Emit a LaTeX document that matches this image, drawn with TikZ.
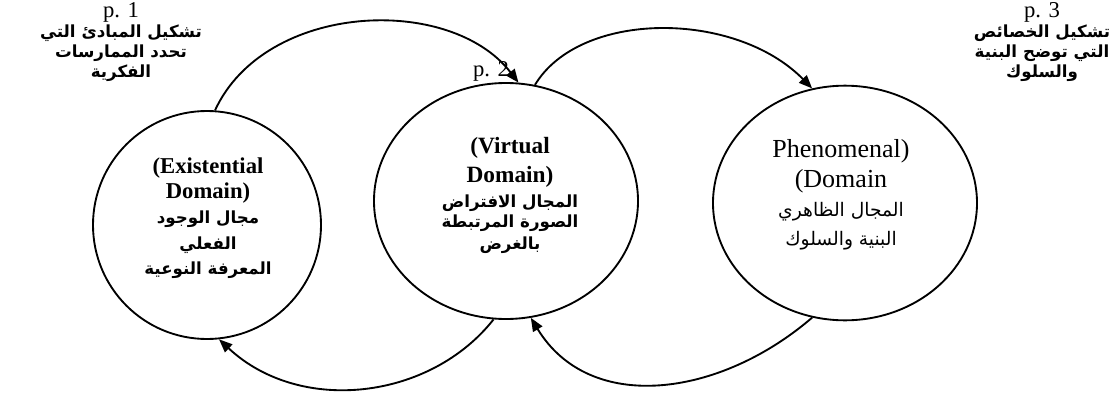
\documentclass[tikz,border=0pt]{standalone}
\usepackage{fontspec}
\setmainfont{Liberation Serif}
\newfontfamily\arabicfont[Script=Arabic]{DejaVu Sans}
\TeXXeTstate=1
\usetikzlibrary{positioning,arrows.meta,shapes.geometric}
\newcommand{\artxt}[2][12]{{\arabicfont\fontsize{#1}{#1}\selectfont\beginR #2\endR}}

\begin{document}
\begin{tikzpicture}[
  x=0.75pt, y=0.75pt,
  domainbox/.style={ellipse, draw, line width=1.4pt, inner sep=0pt},
  txt/.style={align=center, inner sep=0pt},
  conn/.style={-{Triangle[length=10pt,width=8pt]}, line width=1.4pt}
]
\useasboundingbox (0,0) rectangle (1113,394);

% the three domains
\node[domainbox, minimum width=171pt, minimum height=171pt] (exist) at (207,169) {};
\node[domainbox, minimum width=198pt, minimum height=177pt] (virt) at (506,193) {};
\node[domainbox, minimum width=198pt, minimum height=176pt] (phen) at (845,191) {};

\node[txt, font=\bfseries\fontsize{17}{19}\selectfont] (existtxt) at (208,176)
  {(Existential\\Domain)\\\artxt[12.5]{مجال الوجود}\\\artxt[12.5]{الفعلي}\\\artxt[12.5]{المعرفة النوعية}};
\node[txt, font=\bfseries\fontsize{17.5}{17}\selectfont] (virttxt) at (510,199)
  {(Virtual\\[5pt]Domain)\\[2pt]\artxt[12.5]{المجال الافتراض}\\[-2pt]\artxt[12.5]{الصورة المرتبطة}\\[-1pt]\artxt[12.5]{بالغرض}};
\node[txt, font=\fontsize{19.5}{22}\selectfont] (phentxt) at (841,199)
  {Phenomenal)\\(Domain\\\artxt[14]{المجال الظاهري}\\\artxt[14]{البنية والسلوك}};

% page labels
\node[txt, font=\fontsize{17}{15}\selectfont] (plbla) at (121,352)
  {p. 1\\\artxt[12.5]{\bfseries تشكيل المبادئ التي}\\\artxt[12.5]{\bfseries تحدد الممارسات}\\\artxt[12.5]{\bfseries الفكرية}};
\node[txt, font=\fontsize{17}{15}\selectfont] (plblc) at (1042,352)
  {p. 3\\\artxt[12.5]{\bfseries تشكيل الخصائص}\\\artxt[12.5]{\bfseries التي توضح البنية}\\\artxt[12.5]{\bfseries والسلوك}};
\node[txt, font=\fontsize{17}{17}\selectfont] (plblb) at (491,323) {p. 2};

% connectors
\draw[conn] (exist.86) .. controls (265,392) and (450,400) .. (virt.84);
\draw[conn] (virt.76) .. controls (580,384) and (735,384) .. (phen.106);
\draw[conn] (phen.-106) .. controls (720,-3) and (590,-21) .. (virt.-78);
\draw[conn] (virt.-96) .. controls (430,-6) and (300,-21) .. (exist.-84);
\end{tikzpicture}
\end{document}
